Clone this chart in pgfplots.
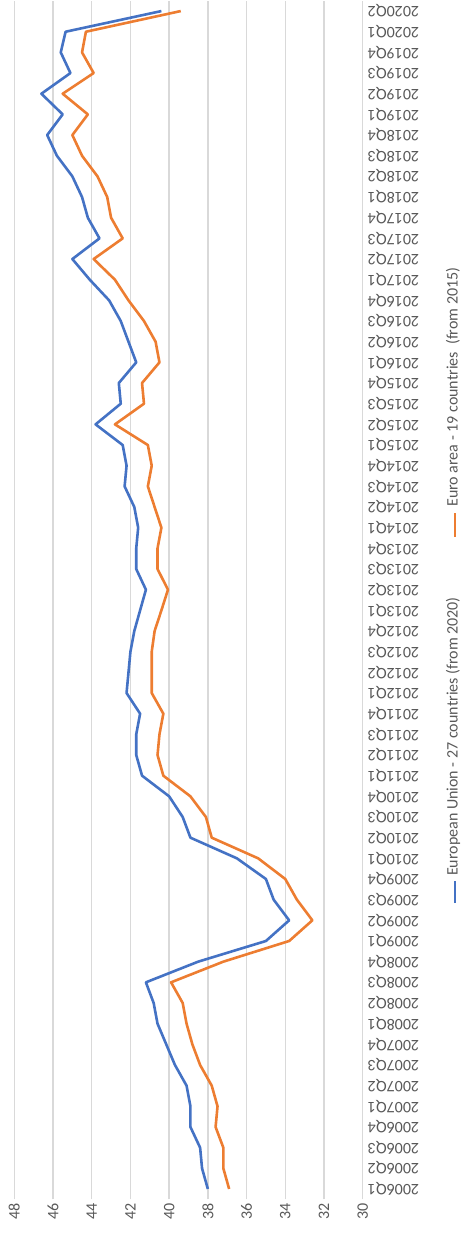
\documentclass[border=0pt]{standalone}
\usepackage{pgfplots}
\pgfplotsset{compat=1.18}
\usepackage{pgfplotstable}
\usepackage{fontspec}
\setmainfont{Carlito}

\definecolor{euBlue}{HTML}{4472C4}
\definecolor{eaOrange}{HTML}{ED7D31}
\definecolor{gridGray}{HTML}{D9D9D9}
\definecolor{txtGray}{HTML}{595959}

% idx, quarter, EU-27, Euro area-19
\pgfplotstableread{
idx q eu ea
0 2006Q1 38.0 36.9
1 2006Q2 38.3 37.2
2 2006Q3 38.4 37.2
3 2006Q4 38.9 37.6
4 2007Q1 38.9 37.5
5 2007Q2 39.1 37.8
6 2007Q3 39.7 38.4
7 2007Q4 40.15 38.8
8 2008Q1 40.6 39.1
9 2008Q2 40.8 39.3
10 2008Q3 41.2 39.9
11 2008Q4 38.5 37.2
12 2009Q1 35.0 33.8
13 2009Q2 33.8 32.6
14 2009Q3 34.6 33.4
15 2009Q4 35.0 34.0
16 2010Q1 36.5 35.4
17 2010Q2 38.9 37.8
18 2010Q3 39.3 38.1
19 2010Q4 40.0 38.9
20 2011Q1 41.4 40.3
21 2011Q2 41.7 40.6
22 2011Q3 41.7 40.5
23 2011Q4 41.5 40.3
24 2012Q1 42.2 40.9
25 2012Q2 42.1 40.9
26 2012Q3 42.0 40.9
27 2012Q4 41.8 40.75
28 2013Q1 41.5 40.4
29 2013Q2 41.2 40.06
30 2013Q3 41.7 40.6
31 2013Q4 41.7 40.6
32 2014Q1 41.6 40.4
33 2014Q2 41.8 40.75
34 2014Q3 42.3 41.1
35 2014Q4 42.2 40.9
36 2015Q1 42.4 41.1
37 2015Q2 43.8 42.8
38 2015Q3 42.5 41.3
39 2015Q4 42.6 41.4
40 2016Q1 41.7 40.5
41 2016Q2 42.1 40.7
42 2016Q3 42.5 41.3
43 2016Q4 43.1 42.1
44 2017Q1 44.1 42.8
45 2017Q2 45.0 43.9
46 2017Q3 43.6 42.4
47 2017Q4 44.2 43.0
48 2018Q1 44.5 43.2
49 2018Q2 45.0 43.7
50 2018Q3 45.8 44.5
51 2018Q4 46.3 45.0
52 2019Q1 45.5 44.2
53 2019Q2 46.6 45.5
54 2019Q3 45.1 43.9
55 2019Q4 45.6 44.5
56 2020Q1 45.35 44.3
57 2020Q2 40.4 39.4
}\quarterly

\begin{document}
\begin{tikzpicture}[font=\fontsize{16}{19}\selectfont]
\useasboundingbox (0,0) rectangle (462pt,-1234pt);
\begin{axis}[
  at={(14.3pt,-1199.3pt)}, anchor=south west,
  scale only axis, width=348.4pt, height=1198.6pt,
  x dir=reverse,
  xmin=30, xmax=48, ymin=-0.5, ymax=57.5,
  xtick={30,32,...,48},
  ytick={0,...,57},
  yticklabels from table={\quarterly}{q},
  axis line style={draw=none},
  major tick length=0pt,
  xmajorgrids,
  grid style={gridGray, line width=1.3pt},
  /pgf/number format/assume math mode=true,
  xticklabel style={rotate=90, anchor=east, inner sep=0pt, text=txtGray},
  xticklabel shift=4pt,
  yticklabel pos=right,
  yticklabel style={rotate=180, anchor=east, inner sep=0pt, text=txtGray},
  yticklabel shift=5pt,
  clip=false,
]
\addplot[euBlue, line width=2.6pt, line join=round, no markers] table[x=eu, y=idx] {\quarterly};
\addplot[eaOrange, line width=2.6pt, line join=round, no markers] table[x=ea, y=idx] {\quarterly};
\end{axis}

% legend, turned with the chart
\draw[euBlue, line width=2.6pt] (455pt,-903pt) -- (455pt,-881pt);
\node[rotate=90, anchor=west, inner sep=0pt, text=txtGray] at (453pt,-876pt) {European Union - 27 countries (from 2020)};
\draw[eaOrange, line width=2.6pt] (455pt,-537pt) -- (455pt,-513pt);
\node[rotate=90, anchor=west, inner sep=0pt, text=txtGray] at (453pt,-507pt) {Euro area - 19 countries\ \ (from 2015)};
\end{tikzpicture}
\end{document}
